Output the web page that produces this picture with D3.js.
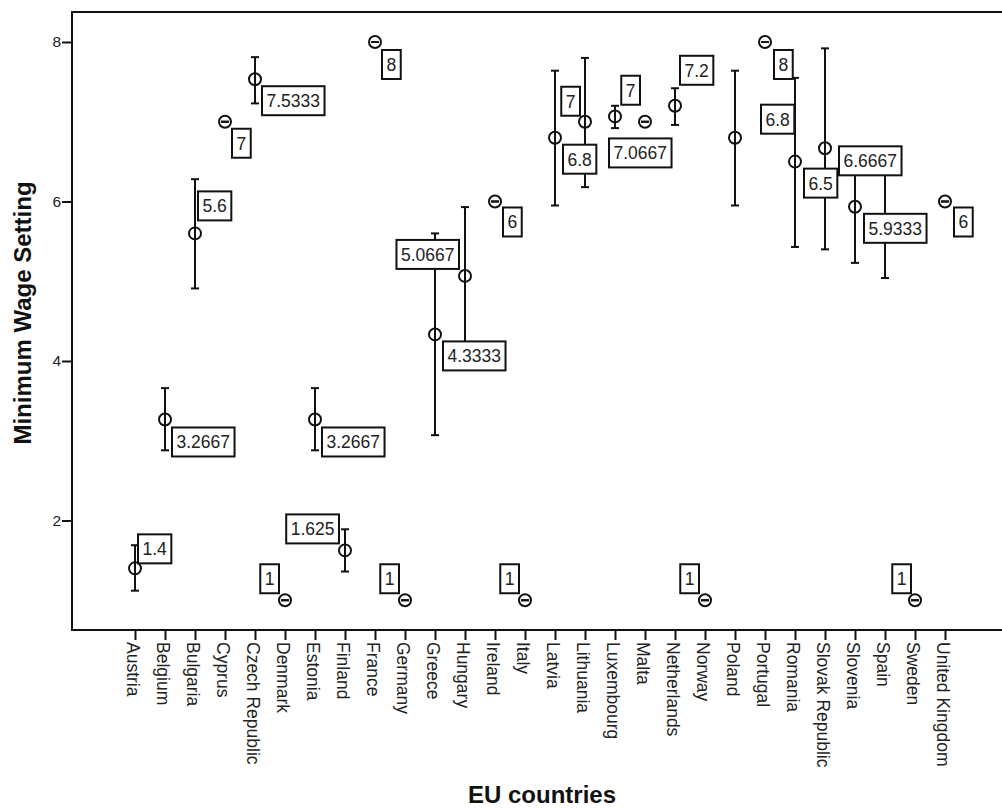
<!DOCTYPE html>
<html>
<head>
<meta charset="utf-8">
<script src="https://cdn.jsdelivr.net/npm/d3@7"></script>
<style>
  html, body { margin: 0; padding: 0; background: #fff; }
  svg { display: block; font-family: "Liberation Sans", Arial, sans-serif; }
</style>
</head>
<body>
<svg id="chart" width="1002" height="808"></svg>
<script>
// ---- data ----
const countries = ["Austria","Belgium","Bulgaria","Cyprus","Czech Republic","Denmark","Estonia","Finland","France","Germany","Greece","Hungary","Ireland","Italy","Latvia","Lithuania","Luxembourg","Malta","Netherlands","Norway","Poland","Portugal","Romania","Slovak Republic","Slovenia","Spain","Sweden","United Kingdom"];
const means  = [1.4, 3.2667, 5.6, 7, 7.5333, 1, 3.2667, 1.625, 8, 1, 4.3333, 5.0667, 6, 1, 6.8, 7, 7.0667, 7, 7.2, 1, 6.8, 8, 6.5, 6.6667, 5.9333, 5.77, 1, 6];
const lowers = [1.12, 2.88, 4.91, 7, 7.23, 1, 2.88, 1.36, 8, 1, 3.07, 4.20, 6, 1, 5.95, 6.18, 6.92, 7, 6.96, 1, 5.95, 8, 5.43, 5.40, 5.23, 5.04, 1, 6];
const uppers = [1.69, 3.66, 6.28, 7, 7.81, 1, 3.66, 1.89, 8, 1, 5.60, 5.93, 6, 1, 7.64, 7.80, 7.20, 7, 7.42, 1, 7.64, 8, 7.55, 7.92, 6.63, 6.50, 1, 6];
const valueLabels = ["1.4","3.2667","5.6","7","7.5333","1","3.2667","1.625","8","1","4.3333","5.0667","6","1","6.8","7","7.0667","7","7.2","1","6.8","8","6.5","6.6667","5.9333",null,"1","6"];
const yTickValues = [2, 4, 6, 8];
const xTitle = "EU countries";
const yTitle = "Minimum Wage Setting";

// ---- label placement (layout only): which box corner sits at point + (dx,dy) ----
const labelPlace = [["lb",3,-5],["lt",7,8],["lb",3,-13],["lt",7,7],["lt",7,7],["rb",-6,-7],["lt",7,8],["rb",-6,-7],["lt",7,8],["rb",-6,-7],["lt",8,7],["rb",-6,-7],["lt",8,6],["rb",-6,-7],["lt",8,7],["rb",-5,-6],["lt",-6,22],["rb",-5,-17],["lb",5,-21],["rb",-6,-7],["lb",26,-4],["lt",9,8],["lt",9,7],["lt",14,-2],["lt",9,7],null,["rb",-4,-7],["lt",9,6]];

const svg = d3.select("#chart");
const mLeft = 72, mTop = 12, mBottom = 630, mRight = 1002;

const x = d3.scalePoint().domain(countries).range([135, 945]);
const y = d3.scaleLinear().domain([0.627, 8.376]).range([mBottom, mTop]);

// frame lines
svg.append("line").attr("x1", mLeft).attr("x2", mRight).attr("y1", mTop).attr("y2", mTop)
  .attr("stroke", "#111").attr("stroke-width", 2);

// y axis
const yAxis = svg.append("g").attr("transform", `translate(${mLeft},0)`)
  .call(d3.axisLeft(y).tickValues(yTickValues).tickSize(10).tickPadding(1).tickSizeOuter(0).tickFormat(d3.format("d")));
yAxis.select(".domain").remove();
yAxis.selectAll(".tick line").attr("stroke", "#111").attr("stroke-width", 2);
yAxis.selectAll(".tick text")
  .style("font-size", "15.5px").attr("fill", "#222")
  .style("font-family", "Liberation Sans, Arial, sans-serif");
svg.append("line").attr("x1", mLeft).attr("x2", mLeft).attr("y1", mTop - 1).attr("y2", mBottom + 1)
  .attr("stroke", "#111").attr("stroke-width", 2);

// x axis
const xAxis = svg.append("g").attr("transform", `translate(0,${mBottom})`)
  .call(d3.axisBottom(x).tickSize(10).tickSizeOuter(0));
xAxis.select(".domain").remove();
xAxis.selectAll(".tick line").attr("stroke", "#111").attr("stroke-width", 2);
xAxis.selectAll(".tick text")
  .attr("transform", "rotate(90)")
  .attr("x", 12).attr("y", 0).attr("dy", 9)
  .style("text-anchor", "start")
  .style("font-size", "17.5px").attr("fill", "#222")
  .style("font-family", "Liberation Sans, Arial, sans-serif");
svg.append("line").attr("x1", mLeft - 1).attr("x2", mRight).attr("y1", mBottom).attr("y2", mBottom)
  .attr("stroke", "#111").attr("stroke-width", 2);

// titles
svg.append("text").text(yTitle)
  .attr("transform", "rotate(-90)")
  .attr("x", -313).attr("y", 31)
  .attr("text-anchor", "middle").attr("font-weight", "bold").style("font-size", "24px").attr("fill", "#111");
svg.append("text").text(xTitle)
  .attr("x", 542).attr("y", 803)
  .attr("text-anchor", "middle").attr("font-weight", "bold").style("font-size", "24px").attr("fill", "#111");

// data
const data = countries.map((c, i) => ({ c, m: means[i], lo: lowers[i], hi: uppers[i], lab: valueLabels[i], place: labelPlace[i] }));

const g = svg.append("g");
const capW = 4;
const bars = g.selectAll(".bar").data(data).enter().append("g").attr("class", "bar")
  .attr("stroke", "#111").attr("stroke-width", 2).attr("fill", "none");
bars.append("line")
  .attr("x1", d => x(d.c)).attr("x2", d => x(d.c))
  .attr("y1", d => y(d.hi)).attr("y2", d => y(d.lo));
bars.append("line")
  .attr("x1", d => x(d.c) - capW).attr("x2", d => x(d.c) + capW)
  .attr("y1", d => y(d.hi)).attr("y2", d => y(d.hi));
bars.append("line")
  .attr("x1", d => x(d.c) - capW).attr("x2", d => x(d.c) + capW)
  .attr("y1", d => y(d.lo)).attr("y2", d => y(d.lo));
bars.append("circle")
  .attr("cx", d => x(d.c)).attr("cy", d => y(d.m)).attr("r", 6);

// value labels
const labG = svg.append("g");
data.filter(d => d.lab !== null).forEach(d => {
  const px = x(d.c), py = y(d.m);
  const grp = labG.append("g");
  const rect = grp.append("rect").attr("fill", "#fff").attr("stroke", "#111").attr("stroke-width", 2);
  const txt = grp.append("text").text(d.lab).style("font-size", "17.5px").attr("fill", "#222")
    .attr("text-anchor", "middle");
  const tw = txt.node().getComputedTextLength();
  const w = tw + 9, h = 29;
  const [code, dx, dy] = d.place;
  let bx, by;
  if (code === "lt") { bx = px + dx; by = py + dy; }
  else if (code === "rb") { bx = px + dx - w; by = py + dy - h; }
  else { bx = px + dx; by = py + dy - h; }
  rect.attr("x", bx).attr("y", by).attr("width", w).attr("height", h);
  txt.attr("x", bx + w / 2).attr("y", by + 21);
});
</script>
</body>
</html>
